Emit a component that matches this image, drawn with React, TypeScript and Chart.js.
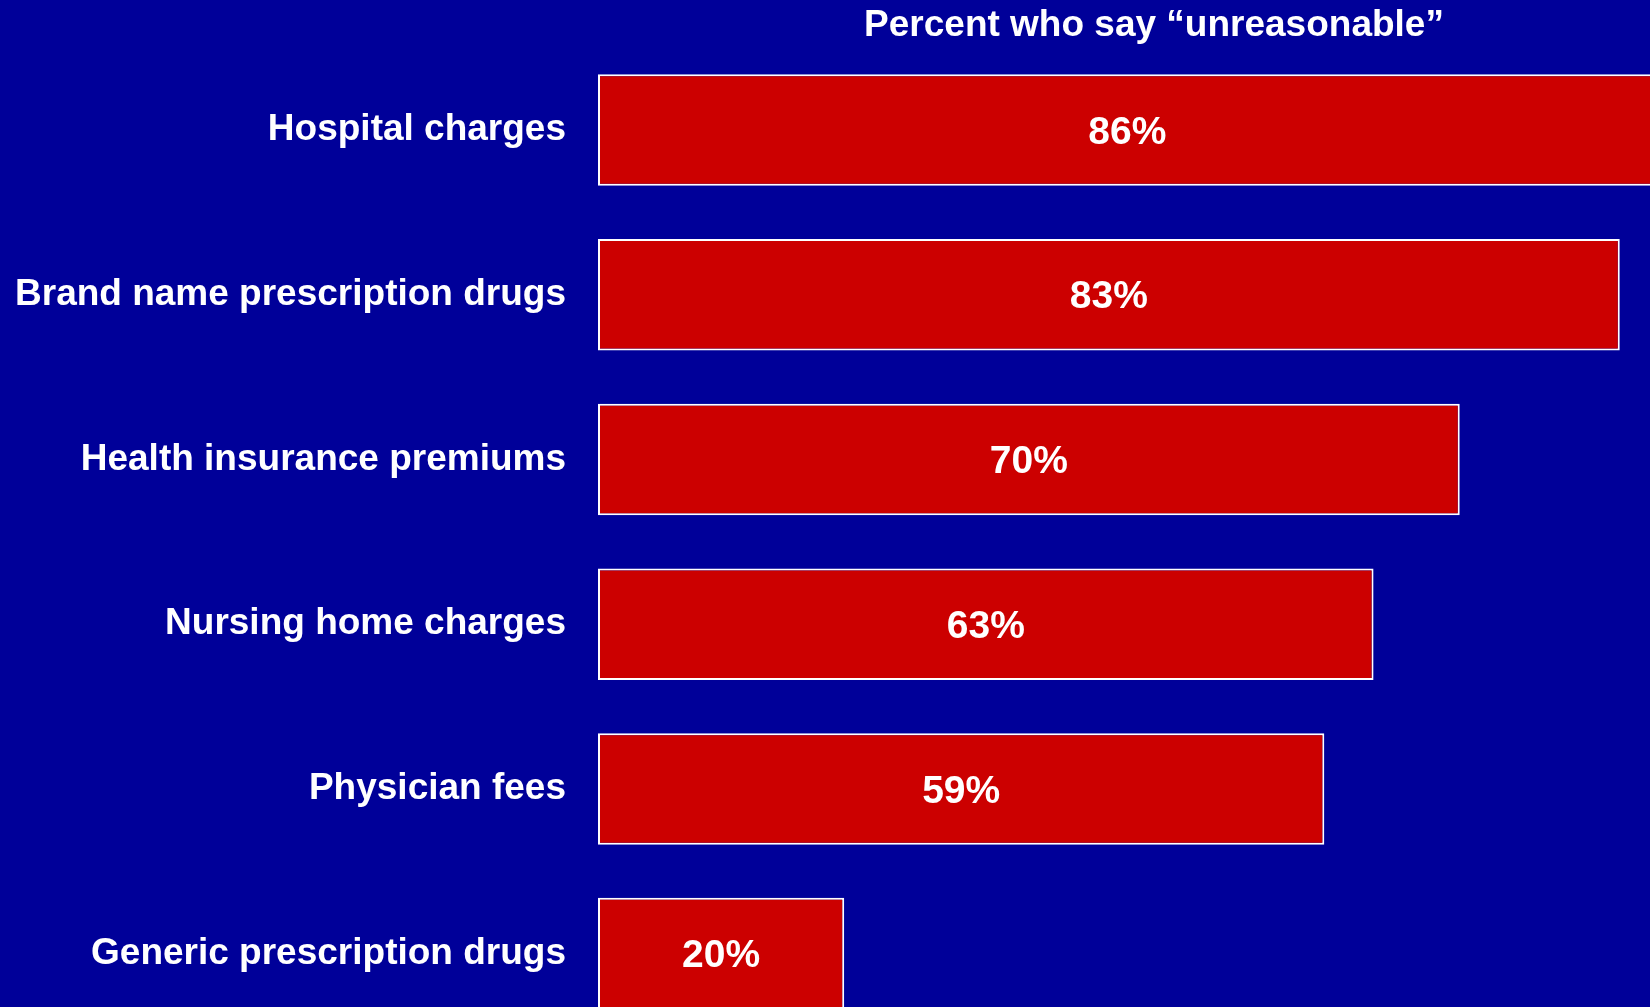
import React, { useEffect, useRef } from "react";
import { Chart, registerables } from "chart.js";

Chart.register(...registerables);

const categories = [
  "Hospital charges",
  "Brand name prescription drugs",
  "Health insurance premiums",
  "Nursing home charges",
  "Physician fees",
  "Generic prescription drugs",
];
const values = [86, 83, 70, 63, 59, 20];
const titleText = "Percent who say \u201Cunreasonable\u201D";

const FONT = "'Liberation Sans', Arial, sans-serif";

export default function App() {
  const ref = useRef<HTMLCanvasElement>(null);

  useEffect(() => {
    document.body.style.margin = "0";
    document.body.style.overflow = "hidden";
    const valueLabels = {
      id: "valueLabels",
      afterDatasetsDraw(chart: any) {
        const ctx = chart.ctx;
        const meta = chart.getDatasetMeta(0);
        ctx.save();
        ctx.fillStyle = "#FFFFFF";
        ctx.font = `bold 39px ${FONT}`;
        ctx.textAlign = "center";
        ctx.textBaseline = "middle";
        meta.data.forEach((bar: any, i: number) => {
          const cx = (bar.x + bar.base) / 2;
          ctx.fillText(values[i] + "%", cx, bar.y + 3);
        });
        ctx.restore();
      },
    };
    const chart = new Chart(ref.current as HTMLCanvasElement, {
      type: "bar",
      data: {
        labels: categories,
        datasets: [
          {
            data: values,
            backgroundColor: "#CC0000",
            borderColor: "#FFFFFF",
            borderWidth: 2,
            borderSkipped: false,
            barPercentage: 0.677,
            categoryPercentage: 1,
          },
        ],
      },
      options: {
        indexAxis: "y",
        responsive: false,
        animation: false,
        devicePixelRatio: 1,
        layout: { padding: 0 },
        plugins: {
          legend: { display: false },
          tooltip: { enabled: false },
          title: {
            display: true,
            text: titleText,
            color: "#FFFFFF",
            fullSize: false,
            font: { family: FONT, size: 37, weight: "bold", lineHeight: 1.1 },
            padding: { top: 5, bottom: 1.9 },
          },
        },
        scales: {
          x: { display: false, min: 0, max: 90.33 },
          y: {
            grid: { display: false, drawTicks: false },
            border: { display: false },
            ticks: {
              color: "#FFFFFF",
              font: { family: FONT, size: 37, weight: "bold" },
              padding: 32,
            },
            afterFit: (s: any) => {
              s.width = 598;
              s.paddingTop = 0;
              s.paddingBottom = 0;
            },
          },
        },
      },
      plugins: [valueLabels],
    } as any);
    return () => chart.destroy();
  }, []);

  return (
    <div
      style={{
        position: "fixed",
        left: 0,
        top: 0,
        width: 1650,
        height: 1007,
        overflow: "hidden",
        background: "#000099",
      }}
    >
      <canvas ref={ref} width={1710} height={1036} style={{ display: "block" }} />
    </div>
  );
}
